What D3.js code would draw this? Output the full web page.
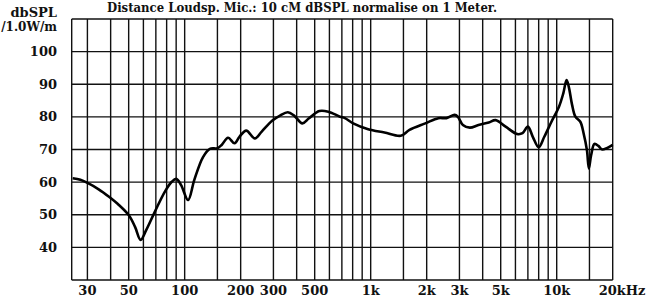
<!DOCTYPE html>
<html>
<head>
<meta charset="utf-8">
<script src="https://cdn.jsdelivr.net/npm/d3@7"></script>
<style>
  body { margin: 0; background: #fff; }
  svg text { font-family: "DejaVu Serif", serif; fill: #111; }
  .grid { stroke: #111; stroke-width: 1.4; }
  .curve { fill: none; stroke: #000; stroke-width: 2.6; stroke-linejoin: round; }
</style>
</head>
<body>
<svg id="chart"></svg>
<script>
const width = 650;
const height = 302;

const title = "Distance Loudsp. Mic.: 10 cM dBSPL normalise on 1 Meter.";

// frequency grid (Hz) and labelled ticks
const gridFreqs = [30, 40, 50, 60, 70, 80, 90, 100, 150, 200, 300, 400, 500, 600, 700, 800, 900,
  1000, 1500, 2000, 3000, 4000, 5000, 6000, 7000, 8000, 9000, 10000, 15000, 20000];
const freqTicks = [30, 50, 100, 200, 300, 500, 1000, 2000, 3000, 5000, 10000, 20000];
const freqLabels = ["30", "50", "100", "200", "300", "500", "1k", "2k", "3k", "5k", "10k", "20kHz"];
const dbTicks = [40, 50, 60, 70, 80, 90, 100];

// response curve
const freq = [25, 27.5, 30.4, 34.5, 39.2, 44.3, 50, 54.1, 58, 62.1, 69.1, 78.3, 85.2, 90, 95.7,
  104.3, 112.7, 125.3, 136.6, 150, 158.1, 171.1, 185.4, 197, 214.3, 238.4, 259.6, 295.1, 325.5,
  358.5, 387.6, 428.8, 466, 529.7, 592, 683.4, 726.6, 805, 969, 1186, 1451, 1616, 1966, 2311,
  2553, 2825, 2940, 3131, 3413, 3798, 4313, 4694, 5313, 6131, 6551, 7000, 7437, 8000, 8576,
  9373, 10285, 10850, 11296, 11614, 12107, 12605, 13395, 13946, 14536, 14893, 15318, 15953,
  16759, 17472, 18578, 20000];
const spl = [61.2, 60.7, 59.6, 57.8, 55.5, 53, 49.9, 46.3, 42.3, 45.3, 50.9, 57.1, 60.1, 61, 59.1,
  54.5, 60.7, 67.6, 70.2, 70.4, 71.4, 73.6, 71.9, 73.9, 75.8, 73.4, 75.5, 78.8, 80.4,
  81.4, 80.4, 78.0, 79.6, 81.8, 81.6, 80.05, 79.6, 78.0, 76.2, 75.2, 74.2, 76.0, 78.0, 79.6,
  79.6, 80.6, 80.05, 77.5, 76.7, 77.5, 78.3, 79.0, 77.0, 74.75, 75.0, 77.0, 73.9, 70.7, 73.9,
  78.5, 83.1, 87.2, 91.3, 89.2, 83.6, 80.05, 78.5, 75.0, 69.8, 64.2, 68.3, 71.7,
  71.1, 70.05, 70.4, 71.4];

const plot = { left: 71.7, right: 612.7, top: 19, bottom: 280 };

const x = d3.scaleLog().domain([24.7, 20000]).range([plot.left, plot.right]);
const y = d3.scaleLinear().domain([30, 110]).range([plot.bottom, plot.top]);

const svg = d3.select("#chart").attr("width", width).attr("height", height);

// grid
const grid = svg.append("g");
grid.selectAll(".vline")
  .data(gridFreqs)
  .enter()
  .append("line")
  .attr("class", "grid")
  .attr("x1", (d) => x(d))
  .attr("x2", (d) => x(d))
  .attr("y1", plot.top)
  .attr("y2", plot.bottom);

grid.selectAll(".hline")
  .data(dbTicks)
  .enter()
  .append("line")
  .attr("class", "grid")
  .attr("x1", plot.left)
  .attr("x2", plot.right)
  .attr("y1", (d) => y(d))
  .attr("y2", (d) => y(d));

// frame: top, bottom, left
grid.append("line").attr("class", "grid")
  .attr("x1", plot.left).attr("x2", plot.right).attr("y1", plot.top).attr("y2", plot.top);
grid.append("line").attr("class", "grid")
  .attr("x1", plot.left).attr("x2", plot.right).attr("y1", plot.bottom).attr("y2", plot.bottom);
grid.append("line").attr("class", "grid")
  .attr("x1", plot.left).attr("x2", plot.left).attr("y1", plot.top).attr("y2", plot.bottom);

// y labels
svg.append("g")
  .selectAll("text")
  .data(dbTicks)
  .enter()
  .append("text")
  .attr("x", 57)
  .attr("y", (d) => y(d) + 4.5)
  .attr("text-anchor", "end")
  .style("font-size", "13px")
  .style("font-weight", "bold")
  .text((d) => d);

// x labels
svg.append("g")
  .selectAll("text")
  .data(freqTicks)
  .enter()
  .append("text")
  .attr("x", (d, i) => (i === freqTicks.length - 1 ? x(d) - 14 : x(d)))
  .attr("y", 295)
  .attr("text-anchor", (d, i) => (i === freqTicks.length - 1 ? "start" : "middle"))
  .style("font-size", "13px")
  .style("font-weight", "bold")
  .text((d, i) => freqLabels[i]);

// axis unit
svg.append("text").attr("x", 57).attr("y", 17).attr("text-anchor", "end")
  .style("font-size", "13px").style("font-weight", "bold").text("dbSPL");
svg.append("text").attr("x", 57).attr("y", 31).attr("text-anchor", "end")
  .style("font-size", "12px").style("font-weight", "bold").text("/1.0W/m");

// title
svg.append("text").attr("x", 107).attr("y", 12)
  .attr("textLength", 390).attr("lengthAdjust", "spacingAndGlyphs")
  .style("font-size", "12.5px").style("font-weight", "bold").text(title);

// response curve
const line = d3.line()
  .x((d, i) => x(freq[i]))
  .y((d) => y(d))
  .curve(d3.curveCatmullRom.alpha(0.5));

svg.append("path").datum(spl).attr("class", "curve").attr("d", line);
</script>
</body>
</html>
